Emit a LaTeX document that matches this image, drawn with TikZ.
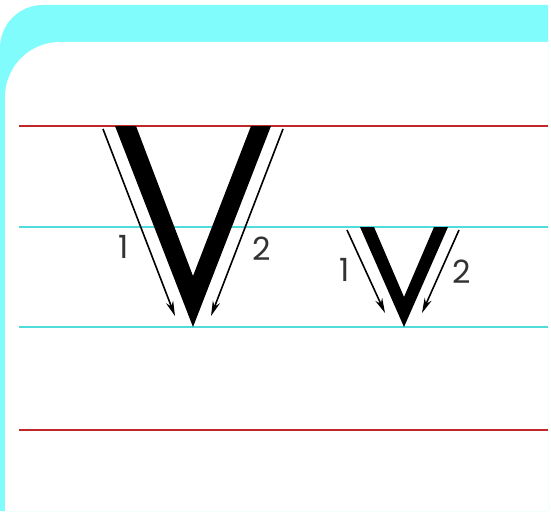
\documentclass[tikz,border=0pt]{standalone}
\usepackage{fontspec}
\setmainfont{Poppins}
\usetikzlibrary{arrows.meta}
\definecolor{bandcyan}{HTML}{80FCFC}
\definecolor{rulecyan}{HTML}{50DCDC}
\definecolor{rulered}{HTML}{C02828}
\definecolor{digit}{HTML}{333333}
\begin{document}
\begin{tikzpicture}[x=1pt,y=-1pt,
  ruleline/.style={line width=2pt},
  strokearrow/.style={line width=1.6pt,-{Stealth[length=15pt,width=7.5pt]}},
  digitlabel/.style={text=digit,font=\fontsize{32}{32}\selectfont,inner sep=0pt}]
\useasboundingbox (0,0) rectangle (551,511);
\fill[white] (0,0) rectangle (551,511);
% cyan frame
\fill[bandcyan] (0,511) -- (0,48) .. controls (0,24.2) and (19.2,5) .. (43,5) -- (548,5) -- (548,511) -- cycle;
\fill[white] (5,511) -- (5,97) .. controls (5,66.6) and (29.6,42) .. (60,42) -- (548,42) -- (548,511) -- cycle;
% ruled lines
\draw[ruleline,rulered] (19,126) -- (548,126);
\draw[ruleline,rulecyan] (19,227) -- (548,227);
\draw[ruleline,rulecyan] (19,327) -- (548,327);
\draw[ruleline,rulered] (19,430) -- (548,430);
% big V
\fill[black] (115,126) -- (136,126) -- (193,276) -- (251,126) -- (271,126) -- (193,327) -- cycle;
\coordinate (a1s) at (103,129); \coordinate (a1e) at (175,316);
\coordinate (a2s) at (283,129); \coordinate (a2e) at (211,316);
\draw[strokearrow] (a1s) -- (a1e);
\draw[strokearrow] (a2s) -- (a2e);
\node[digitlabel] (n1) at (124,247) {1};
\node[digitlabel] (n2) at (262,249) {2};
% small v
\fill[black] (360,227) -- (374,227) -- (404,297) -- (434,227) -- (448,227) -- (404,327) -- cycle;
\coordinate (b1s) at (347,230); \coordinate (b1e) at (385,313);
\coordinate (b2s) at (459,230); \coordinate (b2e) at (422,313);
\draw[strokearrow] (b1s) -- (b1e);
\draw[strokearrow] (b2s) -- (b2e);
\node[digitlabel] (m1) at (345,270) {1};
\node[digitlabel] (m2) at (462,272) {2};
\end{tikzpicture}
\end{document}
